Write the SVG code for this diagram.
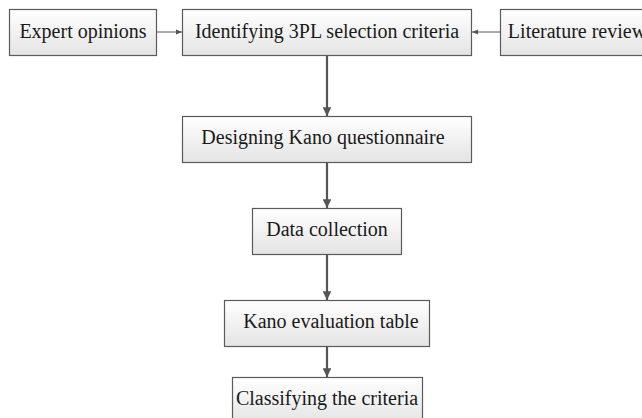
<svg xmlns="http://www.w3.org/2000/svg" width="642" height="418" viewBox="0 0 642 418">
<defs>
<linearGradient id="g" x1="0" y1="0" x2="0" y2="1">
<stop offset="0" stop-color="#ffffff"/>
<stop offset="1" stop-color="#e4e4e4"/>
</linearGradient>
<marker id="ah" viewBox="0 0 10 10" refX="10" refY="5" markerWidth="4" markerHeight="4" orient="auto" markerUnits="strokeWidth">
<path d="M0,0 L10,5 L0,10 z" fill="#555"/>
</marker>
<marker id="ahs" viewBox="0 0 10 10" refX="10" refY="5" markerWidth="6" markerHeight="6" orient="auto" markerUnits="strokeWidth">
<path d="M0,1 L10,5 L0,9 z" fill="#555"/>
</marker>
</defs>
<style>
.box{fill:url(#g);stroke:#5a5a5a;stroke-width:1.2}
.t{font-family:"Liberation Serif","Times New Roman",serif;font-size:20px;fill:#1a1a1a;text-anchor:middle}
.v{stroke:#555;stroke-width:2.2;fill:none;marker-end:url(#ah)}
.h{stroke:#555;stroke-width:1;fill:none;marker-end:url(#ahs)}
</style>
<rect width="642" height="418" fill="#ffffff"/>
<g id="connectors">
<line class="h" x1="157" y1="32" x2="182" y2="32"/>
<line class="h" x1="500" y1="32" x2="472" y2="32"/>
<line class="v" x1="327" y1="55" x2="327" y2="116"/>
<line class="v" x1="327" y1="162" x2="327" y2="208"/>
<line class="v" x1="327" y1="254" x2="327" y2="300"/>
<line class="v" x1="327" y1="346" x2="327" y2="377"/>
</g>
<g id="expert">
<rect class="box" x="9.5" y="9.5" width="147" height="46"/>
<text class="t" x="83" y="37.5">Expert opinions</text>
</g>
<g id="identifying">
<rect class="box" x="182.5" y="9.5" width="289" height="46"/>
<text class="t" x="327" y="37.5">Identifying 3PL selection criteria</text>
</g>
<g id="literature">
<rect class="box" x="500.5" y="9.5" width="150" height="46"/>
<text class="t" x="577" y="37.5">Literature review</text>
</g>
<g id="designing">
<rect class="box" x="182.5" y="116.5" width="289" height="46"/>
<text class="t" x="323" y="144">Designing Kano questionnaire</text>
</g>
<g id="data">
<rect class="box" x="252.5" y="208.5" width="149" height="46"/>
<text class="t" x="327" y="236">Data collection</text>
</g>
<g id="kano">
<rect class="box" x="224.5" y="300.5" width="205" height="46"/>
<text class="t" x="331" y="328">Kano evaluation table</text>
</g>
<g id="classifying">
<rect class="box" x="232.5" y="377.5" width="190" height="46"/>
<text class="t" x="327" y="405">Classifying the criteria</text>
</g>
</svg>
